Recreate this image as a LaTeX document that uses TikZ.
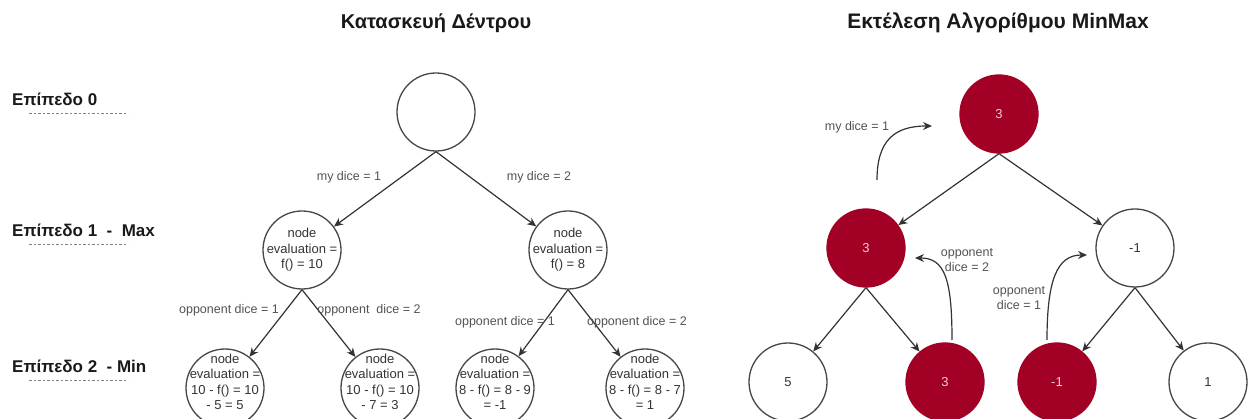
\documentclass[tikz,border=0pt]{standalone}
\usepackage{fontspec}
\setmainfont{Liberation Sans}
\usetikzlibrary{arrows.meta}
\definecolor{dred}{HTML}{A20025}
\definecolor{ink}{HTML}{333333}
\definecolor{pinkw}{RGB}{240,205,218}
\tikzset{
  tnode/.style={circle, draw=ink!90, line width=1.3pt, minimum size=78pt, inner sep=0pt, align=center, font=\fontsize{13}{15}\selectfont, text=ink},
  rnode/.style={tnode, fill=dred, draw=dred, text=pinkw},
  ttext/.style={inner sep=0pt, align=center, font=\fontsize{13}{15.5}\selectfont, text=ink},
  edge/.style={draw=ink, line width=1.2pt, -{Stealth[length=9pt,width=8pt]}},
  elabel/.style={font=\fontsize{12.5}{14.5}\selectfont, text=ink!85, align=center, inner sep=0pt},
  title/.style={font=\bfseries\fontsize{20}{22}\selectfont, text=black!90},
  level/.style={font=\bfseries\fontsize{17}{19}\selectfont, text=black!90, anchor=west, inner sep=0pt},
  dots/.style={draw=gray, line width=0.8pt, dash pattern=on 2.5pt off 2pt}
}
\begin{document}
\begin{tikzpicture}[x=1pt,y=-1pt]
\useasboundingbox (0,0) rectangle (1248,419);
% titles
\node[title] (t1) at (436,23) {Κατασκευή Δέντρου};
\node[title, font=\bfseries\fontsize{21}{23}\selectfont] (t2) at (998,23) {Εκτέλεση Αλγορίθμου MinMax};
% levels
\node[level] (lv0) at (12,99) {Επίπεδο 0};
\node[level] (lv1) at (12,230) {Επίπεδο 1~~-~~Max};
\node[level] (lv2) at (12,366) {Επίπεδο 2~~- Min};
\coordinate (d0a) at (29,113); \coordinate (d0b) at (128,113);
\coordinate (d1a) at (29,244); \coordinate (d1b) at (128,244);
\coordinate (d2a) at (29,380); \coordinate (d2b) at (128,380);
\draw[dots] (d0a) -- (d0b);
\draw[dots] (d1a) -- (d1b);
\draw[dots] (d2a) -- (d2b);
% left tree
\node[tnode] (r) at (436,112) {};
\node[tnode] (a) at (302,250) {};
\node[tnode] (b) at (568,250) {};
\node[tnode] (aa) at (225,388) {};
\node[tnode] (ab) at (380,388) {};
\node[tnode] (ba) at (495,388) {};
\node[tnode] (bb) at (645,388) {};
\node[ttext] (ta) at (a.center) {node\\evaluation =\\f() = 10};
\node[ttext] (tb) at (b.center) {node\\evaluation =\\f() = 8};
\node[ttext] (taa) at ([yshift=6pt]aa.center) {node\\evaluation =\\10 - f() = 10\\- 5 = 5};
\node[ttext] (tab) at ([yshift=6pt]ab.center) {node\\evaluation =\\10 - f() = 10\\- 7 = 3};
\node[ttext] (tba) at ([yshift=6pt]ba.center) {node\\evaluation =\\8 - f() = 8 - 9\\= -1};
\node[ttext] (tbb) at ([yshift=6pt]bb.center) {node\\evaluation =\\8 - f() = 8 - 7\\= 1};
\draw[edge] (r.south) -- (a);
\draw[edge] (r.south) -- (b);
\draw[edge] (a.south) -- (aa);
\draw[edge] (a.south) -- (ab);
\draw[edge] (b.south) -- (ba);
\draw[edge] (b.south) -- (bb);
\node[elabel] (l1) at (349,177) {my dice = 1};
\node[elabel] (l2) at (539,177) {my dice = 2};
\node[elabel] (l3) at (229,310) {opponent dice = 1};
\node[elabel] (l4) at (369,310) {opponent~ dice = 2};
\node[elabel] (l5) at (505,322) {opponent dice = 1};
\node[elabel] (l6) at (637,322) {opponent dice = 2};
% right tree
\node[rnode] (R) at (999,114) {3};
\node[rnode] (A) at (866,248) {3};
\node[tnode] (B) at (1135,248) {-1};
\node[tnode] (AA) at (788,382) {5};
\node[rnode] (AB) at (945,382) {3};
\node[rnode] (BA) at (1057,382) {-1};
\node[tnode] (BB) at (1208,382) {1};
\draw[edge] (R.south) -- (A);
\draw[edge] (R.south) -- (B);
\draw[edge] (A.south) -- (AA);
\draw[edge] (A.south) -- (AB);
\draw[edge] (B.south) -- (BA);
\draw[edge] (B.south) -- (BB);
\node[elabel] (m1) at (857,127) {my dice = 1};
\node[elabel] (m2) at (967,260) {opponent\\dice = 2};
\node[elabel] (m3) at (1019,298) {opponent\\dice = 1};
\coordinate (c1s) at (877,180); \coordinate (c1e) at (932,126);
\coordinate (c2s) at (952,340); \coordinate (c2e) at (915,258);
\coordinate (c3s) at (1047,340); \coordinate (c3e) at (1087,255);
\draw[edge] (c1s) .. controls (877,140) and (895,126) .. (c1e);
\draw[edge] (c2s) .. controls (952,280) and (945,258) .. (c2e);
\draw[edge] (c3s) .. controls (1047,280) and (1057,255) .. (c3e);
\end{tikzpicture}
\end{document}
